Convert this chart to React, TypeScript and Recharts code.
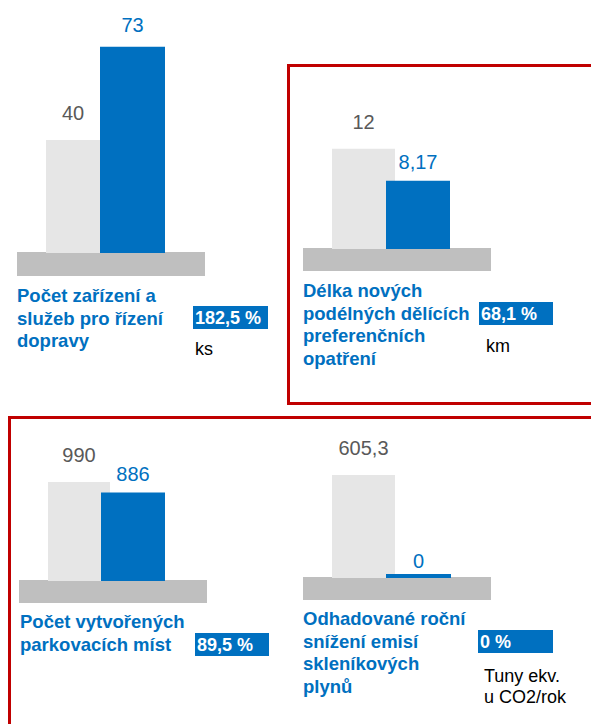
import { BarChart, Bar, XAxis, YAxis, LabelList } from 'recharts'

// target (light) vs. actual (blue) per indicator
const titles = [
  ['Počet zařízení a', 'služeb pro řízení', 'dopravy'],
  ['Délka nových', 'podélných dělících', 'preferenčních', 'opatření'],
  ['Počet vytvořených', 'parkovacích míst'],
  ['Odhadované roční', 'snížení emisí', 'skleníkových', 'plynů'],
]
const targetValues = [40, 12, 990, 605.3]
const actualValues = [73, 8.17, 886, 0]
const percentLabels = ['182,5 %', '68,1 %', '89,5 %', '0 %']
const units = [['ks'], ['km'], [], ['Tuny ekv.', 'u CO2/rok']]
const yMax = [80, 20, 1200, 700]

const COLORS = {
  target: '#E6E6E6',
  actual: '#0070C0',
  base: '#BFBFBF',
  targetText: '#595959',
  frame: '#C00000',
}

const FONT = '"Liberation Sans", Arial, sans-serif'

// layout of each panel (pixels)
const LAYOUT = [
  {
    chart: { left: 17, top: 0, width: 188, height: 253, mt: 27, mr: 12 },
    bars: [54, 65], gap: 0, actualOffset: 15,
    base: { left: 17, top: 252, width: 188, height: 24 },
    title: { left: 17, top: 285 },
    pct: { left: 193, top: 306, width: 75 },
    unit: { left: 195, top: 339 },
  },
  {
    chart: { left: 303, top: 70, width: 188, height: 179, mt: 12, mr: 13 },
    bars: [63, 64], gap: -9, actualOffset: 12,
    base: { left: 303, top: 248, width: 188, height: 23 },
    title: { left: 303, top: 280 },
    pct: { left: 479, top: 302, width: 74 },
    unit: { left: 486, top: 336 },
  },
  {
    chart: { left: 19, top: 430, width: 188, height: 151, mt: 31, mr: 13 },
    bars: [62, 64], gap: -9, actualOffset: 11,
    base: { left: 19, top: 580, width: 188, height: 23 },
    title: { left: 20, top: 611 },
    pct: { left: 195, top: 633, width: 74 },
    unit: { left: 484, top: 666 },
  },
  {
    chart: { left: 303, top: 430, width: 188, height: 148, mt: 29, mr: 12 },
    bars: [63, 65], gap: -9, actualOffset: 6,
    base: { left: 303, top: 577, width: 188, height: 23 },
    title: { left: 303, top: 608 },
    pct: { left: 478, top: 630, width: 75 },
    unit: { left: 484, top: 666 },
  },
]

const fmt = (v: any) => String(v).replace('.', ',')

function Panel({ i }: { i: number }) {
  const l = LAYOUT[i]
  const data = [{ name: 'x', target: targetValues[i], actual: actualValues[i] }]
  return (
    <>
      <div
        style={{
          position: 'absolute',
          ...l.base,
          background: COLORS.base,
        }}
      />
      <div style={{ position: 'absolute', left: l.chart.left, top: l.chart.top }}>
        <BarChart
          width={l.chart.width}
          height={l.chart.height}
          data={data}
          barGap={l.gap}
          margin={{ top: l.chart.mt, right: l.chart.mr, bottom: 0, left: 0 }}
          style={{ fontFamily: FONT }}
        >
          <XAxis dataKey="name" hide />
          <YAxis hide domain={[0, yMax[i]]} allowDataOverflow />
          <Bar dataKey="target" fill={COLORS.target} barSize={l.bars[0]} isAnimationActive={false}>
            <LabelList
              dataKey="target"
              position="top"
              offset={20}
              fill={COLORS.targetText}
              fontSize={20}
              fontFamily={FONT}
              formatter={fmt}
            />
          </Bar>
          <Bar
            dataKey="actual"
            fill={COLORS.actual}
            barSize={l.bars[1]}
            minPointSize={4}
            isAnimationActive={false}
          >
            <LabelList
              dataKey="actual"
              position="top"
              offset={l.actualOffset}
              fill={COLORS.actual}
              fontSize={20}
              fontFamily={FONT}
              formatter={fmt}
            />
          </Bar>
        </BarChart>
      </div>
      <div
        style={{
          position: 'absolute',
          ...l.title,
          color: COLORS.actual,
          fontWeight: 'bold',
          fontSize: 18.5,
          lineHeight: '22.5px',
          whiteSpace: 'nowrap',
        }}
      >
        {titles[i].map(t => (
          <div key={t}>{t}</div>
        ))}
      </div>
      <div
        style={{
          position: 'absolute',
          ...l.pct,
          height: 23,
          background: COLORS.actual,
          color: '#fff',
          fontWeight: 'bold',
          fontSize: 18,
          lineHeight: '24px',
          paddingLeft: 2,
          boxSizing: 'border-box',
          whiteSpace: 'nowrap',
        }}
      >
        {percentLabels[i]}
      </div>
      <div
        style={{
          position: 'absolute',
          ...l.unit,
          color: '#000',
          fontSize: 18,
          lineHeight: '21px',
          whiteSpace: 'nowrap',
        }}
      >
        {units[i].map(u => (
          <div key={u}>{u}</div>
        ))}
      </div>
    </>
  )
}

export default function App() {
  return (
    <div
      style={{
        position: 'absolute',
        left: 0,
        top: 0,
        width: 591,
        height: 724,
        overflow: 'hidden',
        background: '#fff',
        fontFamily: FONT,
      }}
    >
      {/* red frames */}
      <div
        style={{
          position: 'absolute',
          left: 287,
          top: 64,
          width: 400,
          height: 341,
          border: `3px solid ${COLORS.frame}`,
          boxSizing: 'border-box',
        }}
      />
      <div
        style={{
          position: 'absolute',
          left: 8,
          top: 416,
          width: 700,
          height: 400,
          border: `3px solid ${COLORS.frame}`,
          boxSizing: 'border-box',
        }}
      />
      {LAYOUT.map((_, i) => (
        <Panel key={i} i={i} />
      ))}
    </div>
  )
}
